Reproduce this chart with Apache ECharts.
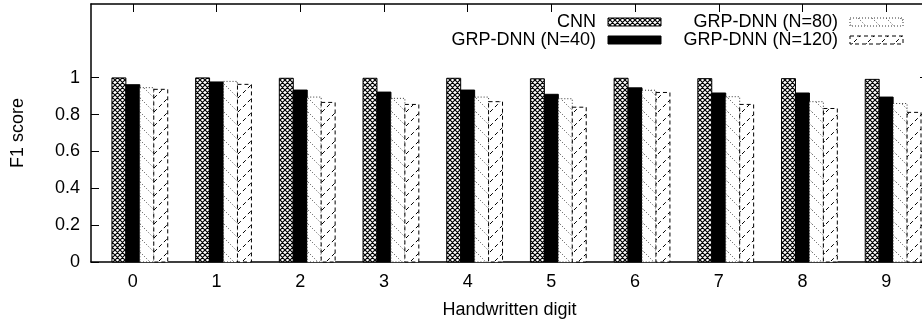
<!DOCTYPE html>
<html>
<head>
<meta charset="utf-8">
<script src="https://cdn.jsdelivr.net/npm/echarts@6/dist/echarts.min.js"></script>
<style>
  html, body { margin: 0; padding: 0; background: #fff; }
  #chart { width: 922px; height: 322px; }
</style>
</head>
<body>
<div id="chart"></div>
<script>
// Handwritten digit classes and per-model F1 scores
const digits = ['0', '1', '2', '3', '4', '5', '6', '7', '8', '9'];
const xTicks = [0, 1, 2, 3, 4, 5, 6, 7, 8, 9];
const yTicks = [0, 0.2, 0.4, 0.6, 0.8, 1];
const seriesNames = ['CNN', 'GRP-DNN (N=40)', 'GRP-DNN (N=80)', 'GRP-DNN (N=120)'];

const cnn    = [0.999, 0.999, 0.997, 0.997, 0.997, 0.994, 0.997, 0.995, 0.995, 0.991];
const dnn40  = [0.962, 0.977, 0.933, 0.922, 0.933, 0.910, 0.945, 0.917, 0.917, 0.895];
const dnn80  = [0.946, 0.980, 0.895, 0.888, 0.895, 0.886, 0.932, 0.897, 0.870, 0.860];
const dnn120 = [0.937, 0.964, 0.866, 0.855, 0.870, 0.840, 0.920, 0.855, 0.833, 0.812];

const FONT = '"Liberation Sans", Arial, Helvetica, sans-serif';
const FS = 18;

// Repeating fill tiles
function tile(size, draw) {
  const c = document.createElement('canvas');
  c.width = size; c.height = size;
  const ctx = c.getContext('2d');
  ctx.fillStyle = '#fff';
  ctx.fillRect(0, 0, size, size);
  draw(ctx, size);
  return { image: c, repeat: 'repeat' };
}
const crossFill = tile(5, (ctx, s) => {
  ctx.strokeStyle = '#000'; ctx.lineWidth = 1.2;
  ctx.beginPath();
  for (const o of [-s, 0, s]) {
    ctx.moveTo(o - 1, -1); ctx.lineTo(o + s + 1, s + 1);
    ctx.moveTo(o + s + 1, -1); ctx.lineTo(o - 1, s + 1);
  }
  ctx.stroke();
});
const dotFill = tile(14, (ctx, s) => {
  ctx.strokeStyle = '#444'; ctx.lineWidth = 1; ctx.setLineDash([1, 2]);
  ctx.beginPath(); ctx.moveTo(0, 0); ctx.lineTo(s, s); ctx.stroke();
});
const dashFill = tile(14, (ctx, s) => {
  ctx.strokeStyle = '#000'; ctx.lineWidth = 1; ctx.setLineDash([4, 3]);
  ctx.beginPath(); ctx.moveTo(0, s); ctx.lineTo(s, 0); ctx.stroke();
});

const styles = [
  { fill: crossFill, stroke: '#000', lineWidth: 1 },
  { fill: '#000', stroke: '#000', lineWidth: 1 },
  { fill: dotFill, stroke: '#333', lineWidth: 1, lineDash: [1, 2] },
  { fill: dashFill, stroke: '#000', lineWidth: 1, lineDash: [4, 3] }
];
const allValues = [cnn, dnn40, dnn80, dnn120];

// Four bars per digit, each one sixth of a unit wide
function barSeries(k) {
  return {
    type: 'custom',
    name: seriesNames[k],
    xAxisIndex: 0,
    yAxisIndex: 0,
    data: allValues[k].map((v, i) => [xTicks[i], v]),
    encode: { x: 0, y: 1 },
    renderItem: (params, api) => {
      const x = api.value(0), y = api.value(1);
      const tl = api.coord([x + (k - 1.5) / 6, y]);
      const br = api.coord([x + (k - 0.5) / 6, 0]);
      return {
        type: 'rect',
        shape: { x: tl[0], y: tl[1], width: br[0] - tl[0], height: br[1] - tl[1] },
        style: Object.assign({}, styles[k])
      };
    }
  };
}

// Key: two columns, right-aligned text followed by a swatch
const keyCols = [{ textRight: 596, swatchX: 608 }, { textRight: 838, swatchX: 850 }];
const keyRows = [22, 40];
const keyGraphics = [];
[0, 1, 2, 3].forEach((k, idx) => {
  const col = keyCols[Math.floor(idx / 2)];
  const rowY = keyRows[idx % 2];
  keyGraphics.push({
    type: 'text',
    x: col.textRight, y: rowY,
    style: { text: seriesNames[k], font: FS + 'px ' + FONT, fill: '#000', align: 'right', verticalAlign: 'middle' }
  });
  keyGraphics.push({
    type: 'rect',
    shape: { x: col.swatchX, y: rowY - 4, width: 53, height: 8 },
    style: Object.assign({}, styles[k])
  });
});

const axisLineStyle = { color: '#000', width: 1.5 };
const labelStyle = { color: '#000', fontSize: FS, fontFamily: FONT };

const chart = echarts.init(document.getElementById('chart'), null, { renderer: 'canvas' });
chart.setOption({
  animation: false,
  backgroundColor: '#fff',
  grid: { left: 91, right: -6, top: 4, bottom: 60, containLabel: false, outerBoundsMode: 'none' },
  xAxis: [
    {
      type: 'value', position: 'bottom', min: -0.5, max: 9.5,
      name: 'Handwritten digit', nameLocation: 'middle', nameGap: 39,
      nameTextStyle: labelStyle,
      axisLine: { show: true, onZero: false, lineStyle: axisLineStyle },
      axisTick: { show: true, inside: true, length: 8, customValues: xTicks, lineStyle: { color: '#000' } },
      axisLabel: { show: true, customValues: xTicks, formatter: v => digits[v], margin: 11, ...labelStyle },
      splitLine: { show: false }
    },
    {
      type: 'value', position: 'top', min: -0.5, max: 9.5,
      axisLine: { show: true, onZero: false, lineStyle: axisLineStyle },
      axisTick: { show: true, inside: true, length: 8, customValues: xTicks, lineStyle: { color: '#000' } },
      axisLabel: { show: false },
      splitLine: { show: false }
    }
  ],
  yAxis: [
    {
      type: 'value', position: 'left', min: 0, max: 1.4,
      name: 'F1 score', nameLocation: 'middle', nameGap: 64, nameRotate: 90,
      nameTextStyle: labelStyle,
      axisLine: { show: true, onZero: false, lineStyle: axisLineStyle },
      axisTick: { show: true, inside: true, length: 8, customValues: yTicks, lineStyle: { color: '#000' } },
      axisLabel: { show: true, customValues: yTicks, margin: 11, ...labelStyle },
      splitLine: { show: false }
    },
    {
      type: 'value', position: 'right', min: 0, max: 1.4,
      axisLine: { show: true, onZero: false, lineStyle: axisLineStyle },
      axisTick: { show: true, inside: true, length: 8, customValues: yTicks, lineStyle: { color: '#000' } },
      axisLabel: { show: false },
      splitLine: { show: false }
    }
  ],
  series: [0, 1, 2, 3].map(barSeries),
  graphic: keyGraphics
});
</script>
</body>
</html>
